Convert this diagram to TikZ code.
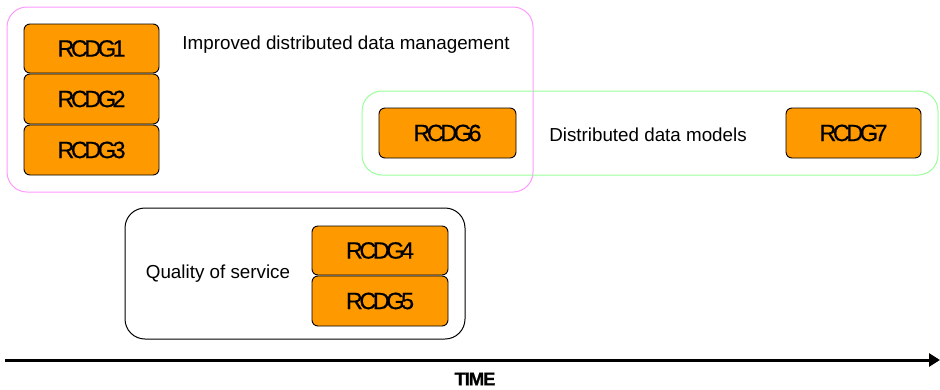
\documentclass[tikz,border=0pt]{standalone}
\usepackage{fontspec}
\setmainfont{Liberation Sans}
\usetikzlibrary{arrows.meta}
\definecolor{rorange}{HTML}{FF9900}
\definecolor{rpink}{HTML}{FF99FF}
\definecolor{rgreen}{HTML}{99FF99}
\newfontfamily\rcdgfont[LetterSpace=-15,FakeBold=0.5]{Liberation Sans}
\newfontfamily\timefont[LetterSpace=-6,FakeBold=1]{Liberation Sans}
\begin{document}
\begin{tikzpicture}[x=1pt,y=-1pt,
  rbox/.style={draw=black, line width=0.9pt, fill=rorange, rounded corners=6pt, inner sep=0pt,
    font=\rcdgfont\fontsize{23.5}{23.5}\selectfont},
  grp/.style={line width=1pt, rounded corners=20pt},
  lbl/.style={font=\fontsize{18.8}{20}\selectfont, inner sep=0pt}]
\useasboundingbox (0,0) rectangle (940,389);
% groups
\draw[grp, draw=rpink] (7,7) rectangle (533,192);
\draw[grp, draw=rgreen] (362,91) rectangle (938,175);
\draw[grp, draw=black] (125,208) rectangle (465,339);
% boxes
\node[rbox, minimum width=135pt, minimum height=49pt] (r1) at (91.5,48.5) {RCDG1};
\node[rbox, minimum width=135pt, minimum height=50pt] (r2) at (91.5,99) {RCDG2};
\node[rbox, minimum width=135pt, minimum height=50pt] (r3) at (91.5,150) {RCDG3};
\node[rbox, minimum width=137pt, minimum height=50pt] (r6) at (447.5,133) {RCDG6};
\node[rbox, minimum width=135pt, minimum height=50pt] (r7) at (853.5,133) {RCDG7};
\node[rbox, minimum width=136pt, minimum height=49pt] (r4) at (380,250.5) {RCDG4};
\node[rbox, minimum width=136pt, minimum height=50pt] (r5) at (380,301) {RCDG5};
% labels
\node[lbl] (l1) at (346,45) {Improved distributed data management};
\node[lbl] (l2) at (648,135) {Distributed data models};
\node[lbl] (l3) at (218,274) {Quality of service};
% time axis
\coordinate (t0) at (5,360);
\coordinate (t1) at (940,360);
\draw[line width=3pt, -{Triangle[length=11pt,width=13pt]}] (t0) -- (t1);
\node[font=\timefont\bfseries\fontsize{18.5}{18.5}\selectfont, inner sep=0pt] (tm) at (475,379) {TIME};
\end{tikzpicture}
\end{document}
